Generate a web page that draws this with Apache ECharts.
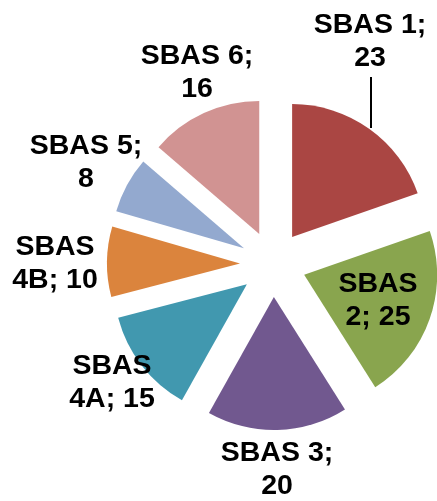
<!DOCTYPE html>
<html><head><meta charset="utf-8">
<script src="https://cdn.jsdelivr.net/npm/echarts@6/dist/echarts.min.js"></script>
<style>html,body{margin:0;padding:0;background:#fff}#c{width:437px;height:501px}</style>
</head><body><div id="c"></div>
<script>
const categories = ['SBAS 1', 'SBAS 2', 'SBAS 3', 'SBAS 4A', 'SBAS 4B', 'SBAS 5', 'SBAS 6'];
const values = [23, 25, 20, 15, 10, 8, 16];
const colors = ['#AA4643', '#89A54E', '#71588F', '#4198AF', '#DB843D', '#93A9CF', '#D19392'];
// label break style: true = break after "SBAS", false = break after "; "
const breakAfterWord = [false, true, false, true, true, false, false];

const labelCenters = [[370, 42], [378, 301], [277, 470], [112, 383], [55, 264], [86, 163], [197, 73]];
const CX = 273, CY = 264, R = 133, EXPLODE = 33;

const total = values.reduce((a, b) => a + b, 0);
let cum = 0;
const midAngles = values.map(v => { const m = (cum + v / 2) / total * 2 * Math.PI; cum += v; return m; });

function labelText(p) {
  const i = p.dataIndex;
  const parts = p.name.split(' ');
  if (breakAfterWord[i]) return parts[0] + '\n' + parts[1] + '; ' + p.value;
  return p.name + ';\n' + p.value;
}

const chart = echarts.init(document.getElementById('c'), null, {renderer: 'canvas'});

const series = categories.map((_, k) => {
  const ux = Math.sin(midAngles[k]), uy = -Math.cos(midAngles[k]);
  return {
    type: 'pie',
    center: [CX + EXPLODE * ux, CY + EXPLODE * uy],
    radius: [0, R],
    startAngle: 90,
    clockwise: true,
    silent: true,
    avoidLabelOverlap: false,
    emphasis: {disabled: true},
    data: categories.map((name, i) => ({
      name: name,
      value: values[i],
      itemStyle: {color: i === k ? colors[i] : 'rgba(0,0,0,0)'},
      label: {show: i === k, position: k === 0 ? 'outside' : 'inside'},
      labelLine: {show: i === k && k === 0, lineStyle: {color: '#000', width: 2}}
    })),
    label: {
      overflow: 'none',
      color: '#000',
      fontFamily: 'Liberation Sans, Arial, sans-serif',
      fontWeight: 'bold',
      fontSize: 28.5,
      lineHeight: 33,
      align: 'center',
      verticalAlign: 'middle',
      formatter: labelText
    },
    labelLayout: function (params) {
      if (params.dataIndex !== k) return {};
      const c = labelCenters[k];
      const res = {x: c[0], y: c[1], align: 'center', verticalAlign: 'middle'};
      if (k === 0) res.labelLinePoints = [[371, 77], [371, 100], [371, 128]];
      return res;
    }
  };
});

chart.setOption({animation: false, series: series});
</script>
</body></html>
